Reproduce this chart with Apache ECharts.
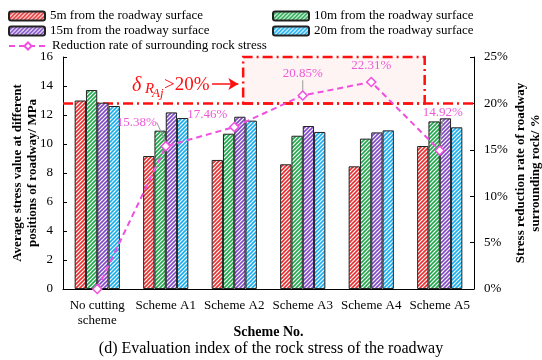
<!DOCTYPE html>
<html>
<head>
<meta charset="utf-8">
<script src="https://cdn.jsdelivr.net/npm/echarts@6/dist/echarts.min.js"></script>
<style>
  html, body { margin: 0; padding: 0; background: #fff; }
  #chart { width: 542px; height: 360px; }
</style>
</head>
<body>
<div id="chart"></div>
<script>
// Schemes on the category axis
const categories = ['No cutting\nscheme', 'Scheme A1', 'Scheme A2', 'Scheme A3', 'Scheme A4', 'Scheme A5'];

// Average stress (MPa) at each distance from the roadway surface
const stress5m  = [13.0, 9.17, 8.9, 8.6, 8.46, 9.86];
const stress10m = [13.72, 10.92, 10.71, 10.57, 10.37, 11.56];
const stress15m = [12.85, 12.18, 11.88, 11.24, 10.8, 11.77];
const stress20m = [12.62, 11.79, 11.61, 10.83, 10.94, 11.15];

// Stress reduction rate of the surrounding rock (%)
const reductionRate = [0, 15.38, 17.46, 20.85, 22.31, 14.92];

// Axis ticks
const leftTicks = { min: 0, max: 16, interval: 2 };
const rightTicks = { min: 0, max: 25, interval: 5 };

// Threshold line (%) and the highlighted band (in category-width units, 0..6)
const threshold = 20;
const bandX = [2.63, 5.28];
const bandY = [20, 25];
const arrowX = [2.175, 2.56];
const arrowY = 22.1;

const serif = 'Liberation Serif';
const red = '#ff1010';
const names = [
  '5m from the roadway surface',
  '10m from the roadway surface',
  '15m from the roadway surface',
  '20m from the roadway surface',
  'Reduction rate of surrounding rock stress'
];
const stripeColors = ['#e62e2e', '#1fa84a', '#7f48c4', '#16aef0'];
const pink = '#f050e0';

// "/" hatching drawn on a small repeating tile
function hatch(color) {
  const s = 4;
  const c = document.createElement('canvas');
  c.width = s;
  c.height = s;
  const ctx = c.getContext('2d');
  ctx.fillStyle = '#ffffff';
  ctx.fillRect(0, 0, s, s);
  ctx.strokeStyle = color;
  ctx.lineWidth = 1.6;
  [-s, 0, s].forEach(k => {
    ctx.beginPath();
    ctx.moveTo(k - 1, s + 1);
    ctx.lineTo(k + s + 1, -1);
    ctx.stroke();
  });
  return { image: c, repeat: 'repeat' };
}

function barSeries(i, values) {
  return {
    name: names[i],
    type: 'bar',
    data: values,
    barGap: '0%',
    barCategoryGap: '34%',
    itemStyle: {
      color: hatch(stripeColors[i]),
      borderColor: '#222',
      borderWidth: 1
    },
    emphasis: { disabled: true }
  };
}

// Label offsets for the reduction-rate points
const labelShift = [[0, 0], [-29, -7], [-27, 4], [0, -5], [0, 0], [3, -21]];
const leaderShown = [false, true, false, true, false, true];

const rateData = reductionRate.map((v, i) => ({
  value: v,
  label: { show: i > 0 },
  labelLine: { show: leaderShown[i], lineStyle: { color: '#999', width: 1 } }
}));

const chart = echarts.init(document.getElementById('chart'), null, { renderer: 'canvas' });

const legendText = { fontFamily: serif, fontSize: 13, color: '#000', lineHeight: 14 };

function redText(text, x, y, size, italic) {
  return {
    type: 'text', left: x, top: y, silent: true,
    style: { text: text, fontFamily: serif, fontSize: size, fontStyle: italic ? 'italic' : 'normal', fill: red }
  };
}

chart.setOption({
  animation: false,
  backgroundColor: '#fff',
  textStyle: { fontFamily: serif },
  title: {
    text: '(d) Evaluation index of the rock stress of the roadway',
    left: 'center',
    top: 336,
    textStyle: { fontFamily: serif, fontSize: 16, fontWeight: 'normal', color: '#000' }
  },
  legend: [
    {
      orient: 'vertical', left: 8, top: 9, itemGap: 1, padding: 0,
      itemWidth: 36, itemHeight: 9,
      data: [names[0], names[2]],
      textStyle: legendText
    },
    {
      orient: 'vertical', left: 272, top: 9, itemGap: 1, padding: 0,
      itemWidth: 36, itemHeight: 9,
      data: [names[1], names[3]],
      textStyle: legendText
    },
    {
      orient: 'vertical', left: 8, top: 39, padding: 0,
      itemWidth: 38, itemHeight: 9,
      data: [names[4]],
      textStyle: legendText
    }
  ],
  grid: { left: 63, right: 68, top: 57, bottom: 71, containLabel: false, outerBoundsMode: 'none' },
  xAxis: [
    {
      type: 'category',
      data: categories,
      name: 'Scheme No.',
      nameLocation: 'middle',
      nameGap: 36,
      nameMoveOverlap: false,
      nameTextStyle: { fontFamily: serif, fontSize: 14, fontWeight: 'bold', color: '#000' },
      axisLine: { lineStyle: { color: '#000', width: 1 } },
      axisTick: { show: false },
      axisLabel: { fontFamily: serif, fontSize: 13, color: '#000', margin: 9, lineHeight: 15, interval: 0 }
    },
    {
      type: 'value', min: 0, max: 6, show: false
    }
  ],
  yAxis: [
    {
      type: 'value',
      min: leftTicks.min, max: leftTicks.max, interval: leftTicks.interval,
      name: 'Average stress value at different\npositions of roadway/ MPa',
      nameLocation: 'middle',
      nameRotate: 90,
      nameGap: 23,
      nameMoveOverlap: false,
      nameTextStyle: { fontFamily: serif, fontSize: 13, fontWeight: 'bold', color: '#000', lineHeight: 15 },
      axisLine: { show: true, lineStyle: { color: '#000', width: 1 } },
      axisTick: { show: true, inside: true, length: 4, lineStyle: { color: '#000' } },
      axisLabel: { fontFamily: serif, fontSize: 13, color: '#000', margin: 10 },
      splitLine: { show: false }
    },
    {
      type: 'value',
      position: 'right',
      min: rightTicks.min, max: rightTicks.max, interval: rightTicks.interval,
      name: 'Stress reduction rate of roadway\nsurrounding rock/ %',
      nameLocation: 'middle',
      nameRotate: 90,
      nameGap: 39,
      nameMoveOverlap: false,
      nameTextStyle: { fontFamily: serif, fontSize: 13, fontWeight: 'bold', color: '#000', lineHeight: 15 },
      axisLine: { show: true, lineStyle: { color: '#000', width: 1 } },
      axisTick: { show: true, inside: true, length: 4, lineStyle: { color: '#000' } },
      axisLabel: { fontFamily: serif, fontSize: 13, color: '#000', margin: 10, formatter: '{value}%' },
      splitLine: { show: false }
    }
  ],
  series: [
    // highlighted band with dash-dot outline, threshold line and arrow
    {
      type: 'line',
      xAxisIndex: 1,
      yAxisIndex: 1,
      data: [[0, threshold], [6, threshold]],
      symbol: 'none',
      silent: true,
      z: 1,
      lineStyle: { color: red, width: 2.5, type: [10, 4, 2, 4] },
      markArea: {
        silent: true,
        itemStyle: {
          color: 'rgba(255, 60, 60, 0.06)',
          borderColor: red,
          borderWidth: 2.5,
          borderType: [10, 4, 2, 4]
        },
        data: [[{ coord: [bandX[0], bandY[0]] }, { coord: [bandX[1], bandY[1]] }]]
      },
      markLine: {
        silent: true,
        symbol: ['none', 'arrow'],
        symbolSize: [9, 10],
        label: { show: false },
        lineStyle: { color: red, width: 1.5, type: 'solid' },
        data: [[{ coord: [arrowX[0], arrowY] }, { coord: [arrowX[1], arrowY] }]]
      }
    },
    barSeries(0, stress5m),
    barSeries(1, stress10m),
    barSeries(2, stress15m),
    barSeries(3, stress20m),
    {
      name: names[4],
      type: 'line',
      yAxisIndex: 1,
      data: rateData,
      z: 5,
      symbol: 'diamond',
      symbolSize: 9,
      itemStyle: { color: '#ffffff', borderColor: pink, borderWidth: 1.5 },
      lineStyle: { color: pink, width: 2, type: [6, 4] },
      label: {
        show: true,
        position: 'top',
        fontFamily: serif,
        fontSize: 13,
        color: '#ec5ad8',
        formatter: p => p.value.toFixed(2) + '%'
      },
      labelLayout: p => ({ dx: labelShift[p.dataIndex][0], dy: labelShift[p.dataIndex][1] }),
      emphasis: { disabled: true }
    }
  ],
  // threshold annotation: δ with nested subscript R_Aj, then ">20%"
  graphic: [
    redText('δ', 132, 76, 20, true),
    redText('R', 145, 82, 15, true),
    redText('Aj', 152, 87, 13, true),
    redText('>20%', 164, 76, 19, false)
  ]
});
</script>
</body>
</html>
